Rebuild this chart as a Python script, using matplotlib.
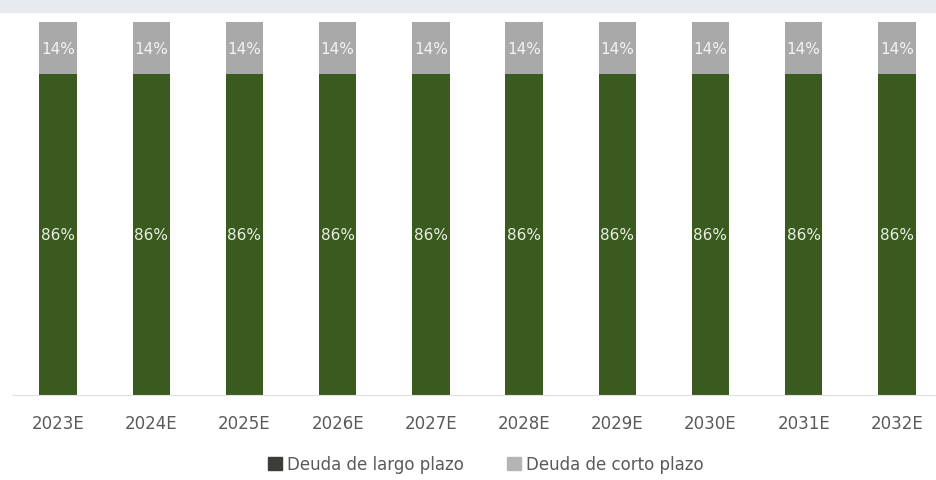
import matplotlib.pyplot as plt
from matplotlib.patches import Patch, Rectangle

years = ['2023E', '2024E', '2025E', '2026E', '2027E',
         '2028E', '2029E', '2030E', '2031E', '2032E']
largo = [86, 86, 86, 86, 86, 86, 86, 86, 86, 86]
corto = [14, 14, 14, 14, 14, 14, 14, 14, 14, 14]

green = '#3a5a1f'
grey = '#a9a9a9'

plt.rcParams['font.family'] = ['DejaVu Sans']

fig = plt.figure(figsize=(9.37, 4.81), dpi=100)
fig.patches.append(Rectangle((0, 1 - 13 / 481), 1, 13 / 481, transform=fig.transFigure,
                             color='#e8ebee', zorder=0))
ax = fig.add_axes([11.5 / 937, 85 / 481, 932 / 937, 373 / 481])

x = range(len(years))
ax.bar(x, largo, width=0.4, color=green)
ax.bar(x, corto, width=0.4, bottom=largo, color=grey)

for i in x:
    ax.text(i, largo[i] / 2, f'{largo[i]}%', ha='center', va='center',
            color='#e8f0e0', fontsize=11)
    ax.text(i, largo[i] + corto[i] / 2, f'{corto[i]}%', ha='center', va='center',
            color='#f4f4f4', fontsize=11)

ax.set_xlim(-0.5, len(years) - 0.5)
ax.set_ylim(0, 100)
ax.set_xticks(list(x))
ax.set_xticklabels(years, fontsize=12, color='#5a5a5a')
ax.tick_params(axis='x', length=0, pad=14)
ax.set_yticks([])
for s in ['top', 'right', 'left']:
    ax.spines[s].set_visible(False)
ax.spines['bottom'].set_color('#e0e0e0')

handles = [Patch(color='#3c3c38'), Patch(color='#b5b5b5')]
fig.legend(handles, ['Deuda de largo plazo', 'Deuda de corto plazo'],
           loc='center', bbox_to_anchor=(486 / 937, 1 - 465 / 481), ncol=2, frameon=False,
           fontsize=12, labelcolor='#5a5a5a', handlelength=0.85, handleheight=0.85,
           columnspacing=2.6, handletextpad=0.3)

fig.savefig('out.png', dpi=100)
